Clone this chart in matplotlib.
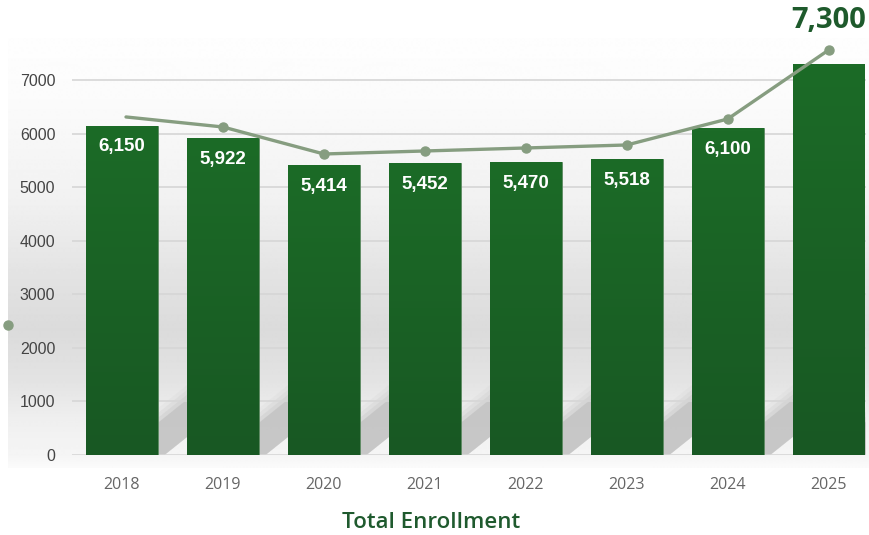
import numpy as np
import matplotlib
matplotlib.use('Agg')
import matplotlib.pyplot as plt
from matplotlib.patches import Polygon
from matplotlib.colors import LinearSegmentedColormap

# data
years = ['2018', '2019', '2020', '2021', '2022', '2023', '2024', '2025']
enrollment = [6150, 5922, 5414, 5452, 5470, 5518, 6100, 7300]
trend_x = [0.04, 1, 2, 3, 4, 5, 6, 7]
trend = [6310, 6123, 5619, 5675, 5731, 5787, 6272, 7560]
stray_x = [-1.13]
stray_y = [2427]
yticks = [0, 1000, 2000, 3000, 4000, 5000, 6000, 7000]

W, H = 869, 535
fig = plt.figure(figsize=(W / 100, H / 100), dpi=100)
fig.patch.set_facecolor('white')

# soft grey backdrop
bg = fig.add_axes([8 / W, (H - 468) / H, (W - 8) / W, (468 - 38) / H])
bg.set_axis_off()
py = np.array([38, 100, 200, 280, 330, 380, 420, 455, 468])
pv = np.array([254, 251, 241, 226, 219, 227, 239, 245, 251]) / 255
col = np.interp(np.arange(38, 469), py, pv)
grad = np.repeat(col[:, None], 2, axis=1)
bg.imshow(grad, cmap='gray', vmin=0, vmax=1, aspect='auto', interpolation='bilinear')

ax = fig.add_axes([72 / W, (H - 455) / H, (866 - 72) / W, (455 - 38) / H])
ax.set_facecolor('none')
x = np.arange(len(years))
bw = 0.71

# slanted shadow band in each gap
slope = 1509.0
def band(i, xx, d):
    return slope * (xx - i - 0.644) + 336 + d

for i in x:
    layers = [(700, 0.8), (790, 0.3), (880, 0.22), (970, 0.12)]
    for d, a in layers:
        pts = [(i + 0.25, 0), (i + 0.421, 0), (i + 0.75, band(i, i + 0.75, 0)),
               (i + 0.75, band(i, i + 0.75, d)), (i + 0.25, max(band(i, i + 0.25, d), 0))]
        ax.add_patch(Polygon(pts, closed=True, facecolor='#c4c4c4', edgecolor='none',
                             alpha=a, zorder=1))

for v in yticks:
    ax.axhline(v, color='#d6d6d6', lw=1.2, zorder=2)

bars = ax.bar(x, enrollment, width=bw, color='#1b6726', edgecolor='#5d8a62', linewidth=0.6, zorder=3)
g = np.linspace(0, 1, 100)[:, None]
cm = LinearSegmentedColormap.from_list('gb', ['#1c6b27', '#185823'])
for b in bars:
    im = ax.imshow(g, cmap=cm, extent=[b.get_x(), b.get_x() + b.get_width(), 0, b.get_height()],
                   aspect='auto', origin='upper', zorder=3.5)
    im.set_clip_path(b)

for i, v in enumerate(enrollment[:-1]):
    ax.text(i, v - 400, f'{v:,}', ha='center', va='center', color='white',
            fontsize=13.5, fontweight='bold', family='Liberation Sans', zorder=5)
ax.text(7, 8120, f'{enrollment[-1]:,}', ha='center', va='center', color='#1e5a2c',
        fontsize=21, fontweight='bold', family='Open Sans', zorder=5, clip_on=False)

ax.plot(trend_x, trend, color='#869d80', lw=2.4, zorder=6, solid_capstyle='round')
ax.plot(trend_x[1:], trend[1:], 'o', color='#869d80', ms=6.5, zorder=7)
ax.plot(stray_x, stray_y, 'o', color='#869d80', ms=6.5, zorder=7, clip_on=False)

ax.set_xlim(-0.495, 7.37)
ax.set_ylim(0, 7784)
ax.set_xticks(x)
ax.set_xticklabels(years, family='Open Sans', fontsize=11.5, color='#666666')
ax.set_yticks(yticks)
ax.set_yticklabels([str(v) for v in yticks], family='Liberation Sans', fontsize=11.5, color='#444444')
ax.tick_params(axis='x', length=0, pad=16)
ax.tick_params(axis='y', length=0, pad=12)
for s in ax.spines.values():
    s.set_visible(False)

fig.text(431 / W, 1 - 522 / H, 'Total Enrollment', ha='center', va='center', color='#1f5a2e',
         fontsize=16, fontweight='semibold', family='Open Sans')

fig.savefig('out.png', dpi=100)
